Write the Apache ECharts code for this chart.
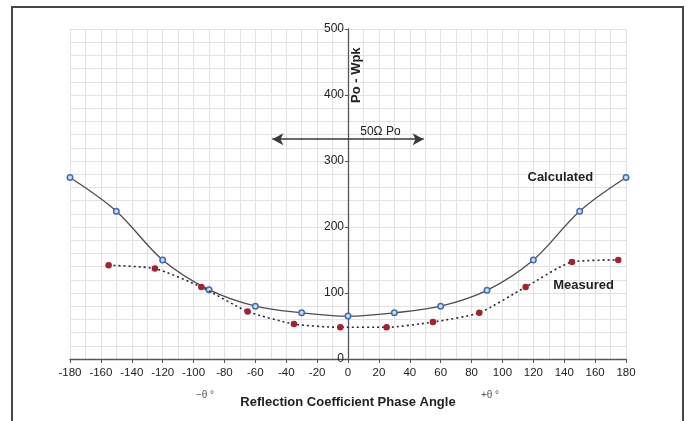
<!DOCTYPE html>
<html>
<head>
<meta charset="utf-8">
<script src="https://cdn.jsdelivr.net/npm/echarts@6/dist/echarts.min.js"></script>
<style>
html,body{margin:0;padding:0;background:#fff;}
#c{width:692px;height:421px;}
</style>
</head>
<body>
<div id="c"></div>
<script>
// ---- data ----
const calcAngles = [-180, -150, -120, -90, -60, -30, 0, 30, 60, 90, 120, 150, 180];
const calcValues = [275, 224, 150, 105, 80, 70, 65, 70, 80, 104, 150, 224, 275];
const measAngles = [-155, -125, -95, -65, -35, -5, 25, 55, 85, 115, 145, 175];
const measValues = [142, 137, 109, 72, 53, 48, 48, 56, 70, 109, 147, 150];
const xTicks = { min: -180, max: 180, step: 20 };
const yTicks = { min: 0, max: 500, step: 100 };
const arrowSpan = [[-49, 333], [49, 333]];
const annotations = [
  { text: '50Ω Po', at: [21, 345], bold: false, rotate: 0 },
  { text: 'Calculated', at: [137.5, 274.5], bold: true, rotate: 0 },
  { text: 'Measured', at: [152.5, 112], bold: true, rotate: 0 },
  { text: 'Po - Wpk', at: [5.5, 430], bold: true, rotate: 90 }
];
const xTitle = 'Reflection Coefficient Phase Angle';

const FONT = '"Liberation Sans", Arial, sans-serif';
const chart = echarts.init(document.getElementById('c'), null, { renderer: 'canvas' });

const gridLeft = 70, gridRight = 66;
const plotW = 692 - gridLeft - gridRight;
// pixel offset that puts the y axis at the x = 0 position of the x axis
const yAxisOffset = -plotW * (0 - xTicks.min) / (xTicks.max - xTicks.min);

const gridColor = '#e2e2e2';
const option = {
  backgroundColor: '#fff',
  animation: false,
  grid: { left: gridLeft, right: gridRight, top: 29, bottom: 62 },
  xAxis: {
    type: 'value', min: xTicks.min, max: xTicks.max, interval: xTicks.step,
    axisLine: { onZero: true, lineStyle: { color: '#555', width: 1.3 } },
    axisTick: { show: true, length: 4, lineStyle: { color: '#555' } },
    axisLabel: { color: '#222', fontSize: 11.5, fontFamily: FONT, margin: 8 },
    splitLine: { show: true, lineStyle: { color: gridColor, width: 1 } },
    minorTick: { show: false, splitNumber: 2 },
    minorSplitLine: { show: true, lineStyle: { color: gridColor, width: 1 } },
    name: xTitle, nameLocation: 'middle', nameGap: 37,
    nameTextStyle: { color: '#222', fontSize: 13, fontWeight: 'bold', fontFamily: FONT }
  },
  yAxis: {
    type: 'value', min: yTicks.min, max: yTicks.max, interval: yTicks.step,
    position: 'left', offset: yAxisOffset,
    axisLine: { show: true, onZero: false, lineStyle: { color: '#555', width: 1.3 } },
    axisTick: { show: true, length: 3, lineStyle: { color: '#555' } },
    axisLabel: { color: '#222', fontSize: 12, fontFamily: FONT, margin: 4 },
    splitLine: { show: true, lineStyle: { color: gridColor, width: 1 } },
    minorTick: { show: false, splitNumber: 5 },
    minorSplitLine: { show: true, lineStyle: { color: gridColor, width: 1 } }
  },
  series: [
    {
      name: 'Calculated', type: 'line', smooth: 0.35,
      data: calcAngles.map((a, i) => [a, calcValues[i]]),
      symbol: 'circle', symbolSize: 5.5,
      lineStyle: { color: '#4d4d4d', width: 1.3 },
      itemStyle: { color: '#cfdcef', borderColor: '#3d6cb5', borderWidth: 1.5 },
      z: 3,
      markLine: {
        silent: true,
        symbol: ['arrow', 'arrow'], symbolSize: [9, 11],
        lineStyle: { color: '#3a3a3a', width: 1.5, type: 'solid' },
        label: { show: false },
        data: [[{ coord: arrowSpan[0] }, { coord: arrowSpan[1] }]]
      },
      markPoint: {
        silent: true,
        symbol: 'circle', symbolSize: 0,
        data: annotations.map(a => ({
          coord: a.at,
          label: {
            show: true, position: 'inside', formatter: a.text,
            color: '#222', fontSize: a.bold ? 13 : 12,
            fontWeight: a.bold ? 'bold' : 'normal',
            fontFamily: FONT, rotate: a.rotate
          }
        }))
      }
    },
    {
      name: 'Measured', type: 'line', smooth: 0.2,
      data: measAngles.map((a, i) => [a, measValues[i]]),
      symbol: 'circle', symbolSize: 6.5,
      lineStyle: { color: '#2a2a2a', width: 1.6, type: [2, 3] },
      itemStyle: { color: '#a3222e', borderColor: '#a3222e', borderWidth: 0 },
      z: 4
    }
  ],
  graphic: [
    { type: 'rect', shape: { x: 12, y: 7, width: 671, height: 440 },
      style: { fill: null, stroke: '#474747', lineWidth: 2 }, silent: true },
    { type: 'text', x: 205, y: 395, style: { text: '−θ °', fill: '#555', fontSize: 10, fontFamily: FONT, align: 'center', verticalAlign: 'middle' } },
    { type: 'text', x: 490, y: 395, style: { text: '+θ °', fill: '#555', fontSize: 10, fontFamily: FONT, align: 'center', verticalAlign: 'middle' } }
  ]
};
chart.setOption(option);
</script>
</body>
</html>
